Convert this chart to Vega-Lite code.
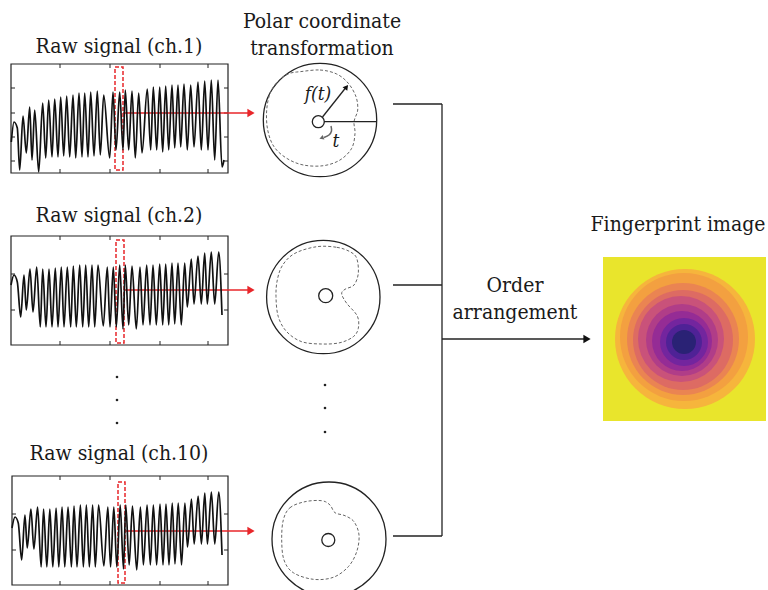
{
"$schema": "https://vega.github.io/schema/vega-lite/v6.json",
"width": 768, "height": 590, "padding": 0, "autosize": {"type": "none"},
"background": "white",
"config": {"view": {"stroke": null}},
"datasets": {
"sig": [
{"ch":1,"t":0.3,"a":31},{"ch":1,"t":3,"a":51},{"ch":1,"t":6.3,"a":45},{"ch":1,"t":8.7,"a":3},{"ch":1,"t":12,"a":57},{"ch":1,"t":15.3,"a":20},{"ch":1,"t":18.7,"a":66},{"ch":1,"t":21,"a":13},{"ch":1,"t":23.7,"a":63},{"ch":1,"t":27.7,"a":1},{"ch":1,"t":31.7,"a":70},{"ch":1,"t":34.7,"a":15},{"ch":1,"t":37.7,"a":73},{"ch":1,"t":41,"a":16},{"ch":1,"t":43.7,"a":74},{"ch":1,"t":47,"a":16},{"ch":1,"t":49.7,"a":76},{"ch":1,"t":52.7,"a":17},{"ch":1,"t":55.7,"a":77},{"ch":1,"t":58.7,"a":16},{"ch":1,"t":62,"a":78},{"ch":1,"t":64.7,"a":15},{"ch":1,"t":68,"a":80},{"ch":1,"t":71,"a":16},{"ch":1,"t":73.7,"a":80},{"ch":1,"t":77,"a":16},{"ch":1,"t":79.7,"a":81},{"ch":1,"t":83,"a":17},{"ch":1,"t":86.3,"a":82},{"ch":1,"t":89.3,"a":18},{"ch":1,"t":92.7,"a":78},{"ch":1,"t":98.7,"a":15},{"ch":1,"t":102,"a":81},{"ch":1,"t":105,"a":23},{"ch":1,"t":108.7,"a":81},{"ch":1,"t":112,"a":23},{"ch":1,"t":114.3,"a":83},{"ch":1,"t":117.7,"a":23},{"ch":1,"t":121,"a":82},{"ch":1,"t":124.3,"a":15},{"ch":1,"t":127.7,"a":80},{"ch":1,"t":131,"a":20},{"ch":1,"t":136.3,"a":84},{"ch":1,"t":139.7,"a":23},{"ch":1,"t":142.3,"a":86},{"ch":1,"t":145.7,"a":23},{"ch":1,"t":148.7,"a":86},{"ch":1,"t":151.7,"a":21},{"ch":1,"t":154.7,"a":87},{"ch":1,"t":157.7,"a":23},{"ch":1,"t":161,"a":88},{"ch":1,"t":163.7,"a":25},{"ch":1,"t":167,"a":88},{"ch":1,"t":169.7,"a":26},{"ch":1,"t":173,"a":89},{"ch":1,"t":176.3,"a":23},{"ch":1,"t":179.7,"a":88},{"ch":1,"t":183,"a":26},{"ch":1,"t":187,"a":91},{"ch":1,"t":190.3,"a":23},{"ch":1,"t":193.7,"a":92},{"ch":1,"t":197,"a":23},{"ch":1,"t":200.3,"a":93},{"ch":1,"t":203.7,"a":13},{"ch":1,"t":207,"a":93},{"ch":1,"t":211,"a":6},{"ch":1,"t":213,"a":13},
{"ch":2,"t":0,"a":60},{"ch":2,"t":3,"a":70},{"ch":2,"t":6.3,"a":63},{"ch":2,"t":9.7,"a":28},{"ch":2,"t":13,"a":70},{"ch":2,"t":15.3,"a":35},{"ch":2,"t":19,"a":76},{"ch":2,"t":22,"a":33},{"ch":2,"t":25.7,"a":78},{"ch":2,"t":29.3,"a":18},{"ch":2,"t":31.7,"a":76},{"ch":2,"t":35,"a":18},{"ch":2,"t":38,"a":76},{"ch":2,"t":41,"a":18},{"ch":2,"t":44.3,"a":77},{"ch":2,"t":47,"a":18},{"ch":2,"t":50.3,"a":78},{"ch":2,"t":53,"a":18},{"ch":2,"t":56.3,"a":78},{"ch":2,"t":59.7,"a":18},{"ch":2,"t":62.3,"a":79},{"ch":2,"t":65.3,"a":18},{"ch":2,"t":68.7,"a":80},{"ch":2,"t":71.7,"a":18},{"ch":2,"t":74.7,"a":80},{"ch":2,"t":77.7,"a":18},{"ch":2,"t":81,"a":80},{"ch":2,"t":83.7,"a":18},{"ch":2,"t":87,"a":80},{"ch":2,"t":92.3,"a":19},{"ch":2,"t":96.3,"a":78},{"ch":2,"t":99,"a":18},{"ch":2,"t":102.3,"a":78},{"ch":2,"t":105.3,"a":18},{"ch":2,"t":108.7,"a":80},{"ch":2,"t":112,"a":16},{"ch":2,"t":114.3,"a":80},{"ch":2,"t":117.7,"a":20},{"ch":2,"t":121,"a":79},{"ch":2,"t":125.3,"a":16},{"ch":2,"t":129,"a":78},{"ch":2,"t":132,"a":20},{"ch":2,"t":135.7,"a":80},{"ch":2,"t":139,"a":20},{"ch":2,"t":142,"a":80},{"ch":2,"t":145.3,"a":20},{"ch":2,"t":148.7,"a":81},{"ch":2,"t":151.7,"a":20},{"ch":2,"t":154.7,"a":81},{"ch":2,"t":157.7,"a":20},{"ch":2,"t":161,"a":82},{"ch":2,"t":163.7,"a":21},{"ch":2,"t":167,"a":82},{"ch":2,"t":170.3,"a":20},{"ch":2,"t":173.7,"a":82},{"ch":2,"t":176.3,"a":38},{"ch":2,"t":180.3,"a":86},{"ch":2,"t":183,"a":41},{"ch":2,"t":187,"a":89},{"ch":2,"t":190.3,"a":41},{"ch":2,"t":193.7,"a":92},{"ch":2,"t":196.3,"a":41},{"ch":2,"t":200.3,"a":93},{"ch":2,"t":203.7,"a":41},{"ch":2,"t":207.7,"a":93},{"ch":2,"t":211,"a":30},
{"ch":3,"t":0,"a":57},{"ch":3,"t":3,"a":68},{"ch":3,"t":6.3,"a":62},{"ch":3,"t":9.7,"a":25},{"ch":3,"t":13,"a":70},{"ch":3,"t":15.3,"a":37},{"ch":3,"t":19,"a":76},{"ch":3,"t":22,"a":36},{"ch":3,"t":25.7,"a":78},{"ch":3,"t":29.3,"a":18},{"ch":3,"t":31.7,"a":76},{"ch":3,"t":35,"a":18},{"ch":3,"t":38,"a":76},{"ch":3,"t":41,"a":18},{"ch":3,"t":44.3,"a":77},{"ch":3,"t":47,"a":18},{"ch":3,"t":50.3,"a":78},{"ch":3,"t":53,"a":18},{"ch":3,"t":56.3,"a":78},{"ch":3,"t":59.7,"a":18},{"ch":3,"t":62.3,"a":79},{"ch":3,"t":65.3,"a":18},{"ch":3,"t":68.7,"a":80},{"ch":3,"t":71.7,"a":18},{"ch":3,"t":74.7,"a":80},{"ch":3,"t":77.7,"a":18},{"ch":3,"t":81,"a":80},{"ch":3,"t":83.7,"a":18},{"ch":3,"t":87,"a":80},{"ch":3,"t":92.3,"a":19},{"ch":3,"t":96.3,"a":78},{"ch":3,"t":99,"a":18},{"ch":3,"t":102.3,"a":78},{"ch":3,"t":105.3,"a":18},{"ch":3,"t":108.7,"a":80},{"ch":3,"t":112,"a":16},{"ch":3,"t":114.3,"a":80},{"ch":3,"t":117.7,"a":20},{"ch":3,"t":121,"a":79},{"ch":3,"t":125.3,"a":15},{"ch":3,"t":129,"a":78},{"ch":3,"t":132,"a":20},{"ch":3,"t":135.7,"a":80},{"ch":3,"t":139,"a":20},{"ch":3,"t":142,"a":80},{"ch":3,"t":145.3,"a":20},{"ch":3,"t":148.7,"a":81},{"ch":3,"t":151.7,"a":20},{"ch":3,"t":154.7,"a":81},{"ch":3,"t":157.7,"a":20},{"ch":3,"t":161,"a":82},{"ch":3,"t":163.7,"a":21},{"ch":3,"t":167,"a":82},{"ch":3,"t":170.3,"a":20},{"ch":3,"t":173.7,"a":82},{"ch":3,"t":176.3,"a":38},{"ch":3,"t":180.3,"a":86},{"ch":3,"t":183,"a":41},{"ch":3,"t":187,"a":89},{"ch":3,"t":190.3,"a":41},{"ch":3,"t":193.7,"a":92},{"ch":3,"t":196.3,"a":41},{"ch":3,"t":200.3,"a":93},{"ch":3,"t":203.7,"a":41},{"ch":3,"t":207.7,"a":93},{"ch":3,"t":211,"a":30}
],
"frames": [{"x":11,"y":64,"x2":228,"y2":173},{"x":11,"y":236,"x2":228,"y2":345},{"x":12,"y":476,"x2":228,"y2":585}],
"ticks": [
{"x":60,"y":64,"x2":60,"y2":68},{"x":110,"y":64,"x2":110,"y2":68},{"x":160,"y":64,"x2":160,"y2":68},{"x":208,"y":64,"x2":208,"y2":68},
{"x":60,"y":169,"x2":60,"y2":173},{"x":110,"y":169,"x2":110,"y2":173},{"x":160,"y":169,"x2":160,"y2":173},{"x":208,"y":169,"x2":208,"y2":173},
{"x":11,"y":88,"x2":15,"y2":88},{"x":11,"y":113,"x2":15,"y2":113},{"x":11,"y":137,"x2":15,"y2":137},{"x":11,"y":161,"x2":15,"y2":161},
{"x":224,"y":88,"x2":228,"y2":88},{"x":224,"y":113,"x2":228,"y2":113},{"x":224,"y":137,"x2":228,"y2":137},{"x":224,"y":161,"x2":228,"y2":161},
{"x":60,"y":236,"x2":60,"y2":240},{"x":110,"y":236,"x2":110,"y2":240},{"x":160,"y":236,"x2":160,"y2":240},{"x":208,"y":236,"x2":208,"y2":240},
{"x":60,"y":341,"x2":60,"y2":345},{"x":110,"y":341,"x2":110,"y2":345},{"x":160,"y":341,"x2":160,"y2":345},{"x":208,"y":341,"x2":208,"y2":345},
{"x":11,"y":274,"x2":15,"y2":274},{"x":11,"y":310,"x2":15,"y2":310},{"x":224,"y":274,"x2":228,"y2":274},{"x":224,"y":310,"x2":228,"y2":310},
{"x":60,"y":476,"x2":60,"y2":480},{"x":110,"y":476,"x2":110,"y2":480},{"x":160,"y":476,"x2":160,"y2":480},{"x":208,"y":476,"x2":208,"y2":480},
{"x":60,"y":581,"x2":60,"y2":585},{"x":110,"y":581,"x2":110,"y2":585},{"x":160,"y":581,"x2":160,"y2":585},{"x":208,"y":581,"x2":208,"y2":585},
{"x":12,"y":514,"x2":16,"y2":514},{"x":12,"y":550,"x2":16,"y2":550},{"x":224,"y":514,"x2":228,"y2":514},{"x":224,"y":550,"x2":228,"y2":550}
],
"redbox": [{"x":115,"y":67,"x2":123,"y2":170},{"x":116,"y":240,"x2":124,"y2":343},{"x":118,"y":482,"x2":125,"y2":583}],
"redline": [{"x":123,"y":113,"x2":250,"y2":113},{"x":124,"y":290,"x2":250,"y2":290},{"x":125,"y":531,"x2":250,"y2":531}],
"redhead": [{"x":251,"y":113},{"x":251,"y":290},{"x":251,"y":531}],
"conn": [{"x":393,"y":104,"x2":442,"y2":104},{"x":393,"y":285,"x2":442,"y2":285},{"x":393,"y":536,"x2":442,"y2":536},{"x":442,"y":104,"x2":442,"y2":536},{"x":442,"y":339,"x2":585,"y2":339},{"x":324,"y":121.7,"x2":376.7,"y2":121.7},{"x":322.5,"y":117,"x2":345.5,"y2":88}],
"blackhead": [{"x":587,"y":339}],
"fhead": [{"x":346.5,"y":87}],
"tarc": [{"o":1,"x":331,"y":126},{"o":2,"x":331.5,"y":131},{"o":3,"x":329,"y":135},{"o":4,"x":324,"y":137.5}],
"thead": [{"x":321.5,"y":138}],
"circles": [{"x":320,"y":120,"r":56.7},{"x":323.3,"y":297,"r":56.7},{"x":329,"y":539,"r":57},{"x":318.3,"y":121.7,"r":6},{"x":325.7,"y":295.7,"r":7},{"x":328.3,"y":540,"r":6.5}],
"dash": [
{"c":1,"o":1,"x":300,"y":71.7},{"c":1,"o":2,"x":320,"y":70},{"c":1,"o":3,"x":336.7,"y":74},{"c":1,"o":4,"x":348.3,"y":83.3},{"c":1,"o":5,"x":356,"y":96.7},{"c":1,"o":6,"x":357.7,"y":110},{"c":1,"o":7,"x":354,"y":121.7},{"c":1,"o":8,"x":355,"y":133.3},{"c":1,"o":9,"x":351.7,"y":148.3},{"c":1,"o":10,"x":340,"y":160},{"c":1,"o":11,"x":323.3,"y":165.7},{"c":1,"o":12,"x":303.3,"y":165},{"c":1,"o":13,"x":286.7,"y":158.3},{"c":1,"o":14,"x":274,"y":146.7},{"c":1,"o":15,"x":267.7,"y":130},{"c":1,"o":16,"x":266.7,"y":110},{"c":1,"o":17,"x":270.7,"y":91.7},{"c":1,"o":18,"x":280,"y":79.3},{"c":1,"o":19,"x":290,"y":73.3},
{"c":2,"o":1,"x":316.7,"y":246.7},{"c":2,"o":2,"x":336.7,"y":247.3},{"c":2,"o":3,"x":350,"y":251.7},{"c":2,"o":4,"x":356.7,"y":258.3},{"c":2,"o":5,"x":358.3,"y":273.3},{"c":2,"o":6,"x":354,"y":285},{"c":2,"o":7,"x":345,"y":289.3},{"c":2,"o":8,"x":341.7,"y":294},{"c":2,"o":9,"x":346.7,"y":303.3},{"c":2,"o":10,"x":357.3,"y":316},{"c":2,"o":11,"x":358.3,"y":328.3},{"c":2,"o":12,"x":353.3,"y":336.7},{"c":2,"o":13,"x":340,"y":342.7},{"c":2,"o":14,"x":321.7,"y":344},{"c":2,"o":15,"x":301.7,"y":341.7},{"c":2,"o":16,"x":286.7,"y":331.7},{"c":2,"o":17,"x":278.3,"y":316.7},{"c":2,"o":18,"x":276,"y":296.7},{"c":2,"o":19,"x":277.3,"y":280},{"c":2,"o":20,"x":282.7,"y":265},{"c":2,"o":21,"x":295,"y":253.3},
{"c":3,"o":1,"x":283.3,"y":520},{"c":3,"o":2,"x":290,"y":507.7},{"c":3,"o":3,"x":305,"y":501.7},{"c":3,"o":4,"x":321.7,"y":500.7},{"c":3,"o":5,"x":330,"y":505},{"c":3,"o":6,"x":335,"y":512.7},{"c":3,"o":7,"x":345,"y":515.7},{"c":3,"o":8,"x":354,"y":521.7},{"c":3,"o":9,"x":359,"y":535},{"c":3,"o":10,"x":356.7,"y":551.7},{"c":3,"o":11,"x":348.3,"y":566.7},{"c":3,"o":12,"x":333.3,"y":577.3},{"c":3,"o":13,"x":313.3,"y":579.3},{"c":3,"o":14,"x":293.3,"y":572.7},{"c":3,"o":15,"x":284,"y":560},{"c":3,"o":16,"x":281.7,"y":540}
],
"dots": [{"x":117,"y":377},{"x":117,"y":400},{"x":117,"y":423},{"x":325,"y":385},{"x":325,"y":408},{"x":325,"y":432}],
"labels": [{"x":119,"y":53,"text":"Raw signal (ch.1)"},{"x":119,"y":222,"text":"Raw signal (ch.2)"},{"x":119,"y":460,"text":"Raw signal (ch.10)"},{"x":322,"y":28,"text":"Polar coordinate"},{"x":322,"y":55,"text":"transformation"},{"x":515,"y":292,"text":"Order"},{"x":515,"y":319,"text":"arrangement"},{"x":678,"y":231,"text":"Fingerprint image"}],
"ital": [{"x":318,"y":100,"text":"f(t)"},{"x":336,"y":147,"text":"t"}],
"fpbg": [{"x":603,"y":257,"x2":766,"y2":421}],
"rings": [{"x":685,"y":339,"r":70,"lv":1},{"x":684,"y":337,"r":64,"lv":2},{"x":683,"y":339,"r":56,"lv":3},{"x":683,"y":340,"r":50,"lv":4},{"x":681,"y":339,"r":43,"lv":5},{"x":682,"y":340,"r":36,"lv":6},{"x":682,"y":341,"r":30,"lv":7},{"x":684,"y":342,"r":24,"lv":8},{"x":684,"y":342,"r":18,"lv":9},{"x":684,"y":342,"r":12,"lv":10}]
},
"layer": [
{
"encoding": {
"x": {"field": "x", "type": "quantitative", "scale": {"domain": [0, 768], "range": [0, 768], "nice": false, "zero": false}, "axis": null},
"y": {"field": "y", "type": "quantitative", "scale": {"domain": [0, 590], "range": [0, 590], "nice": false, "zero": false}, "axis": null}
},
"layer": [
{"data": {"name": "fpbg"}, "mark": {"type": "rect", "fill": "#e9e52c"}, "encoding": {"x2": {"field": "x2"}, "y2": {"field": "y2"}}},
{"data": {"name": "rings"}, "mark": {"type": "point", "shape": "circle", "filled": true, "opacity": 1, "strokeWidth": 0},
 "encoding": {
  "size": {"field": "r", "type": "quantitative", "scale": {"type": "pow", "exponent": 2, "domain": [0, 100], "range": [0, 40000]}, "legend": null},
  "color": {"field": "lv", "type": "ordinal", "scale": {"domain": [1,2,3,4,5,6,7,8,9,10], "range": ["#f6b53c","#f3a040","#ea8452","#dd6b63","#c9527a","#b03d88","#952c95","#73259e","#4f2296","#2a2275"]}, "legend": null},
  "order": {"field": "r", "type": "quantitative", "sort": "descending"}}},
{"data": {"name": "frames"}, "mark": {"type": "rect", "fill": null, "stroke": "#222", "strokeWidth": 1.2}, "encoding": {"x2": {"field": "x2"}, "y2": {"field": "y2"}}},
{"data": {"name": "ticks"}, "mark": {"type": "rule", "color": "#222", "strokeWidth": 1}, "encoding": {"x2": {"field": "x2"}, "y2": {"field": "y2"}}},
{"data": {"name": "circles"}, "mark": {"type": "point", "shape": "circle", "filled": false, "opacity": 1, "color": "#222", "strokeWidth": 1.3},
 "encoding": {"size": {"field": "r", "type": "quantitative", "scale": {"type": "pow", "exponent": 2, "domain": [0, 100], "range": [0, 40000]}, "legend": null}}},
{"data": {"name": "dash"}, "mark": {"type": "line", "color": "#666", "strokeWidth": 1, "strokeDash": [3, 2], "interpolate": "cardinal-closed"},
 "encoding": {"detail": {"field": "c"}, "order": {"field": "o", "type": "quantitative"}}},
{"data": {"name": "conn"}, "mark": {"type": "rule", "color": "#222", "strokeWidth": 1.3}, "encoding": {"x2": {"field": "x2"}, "y2": {"field": "y2"}}},
{"data": {"name": "blackhead"}, "mark": {"type": "point", "shape": "triangle-right", "filled": true, "opacity": 1, "color": "#111", "size": 70}},
{"data": {"name": "fhead"}, "mark": {"type": "point", "shape": "triangle-up", "filled": true, "opacity": 1, "color": "#111", "size": 35, "angle": 38}},
{"data": {"name": "tarc"}, "mark": {"type": "line", "color": "#666", "strokeWidth": 1.5, "interpolate": "cardinal"}, "encoding": {"order": {"field": "o", "type": "quantitative"}}},
{"data": {"name": "thead"}, "mark": {"type": "point", "shape": "triangle-left", "filled": true, "opacity": 1, "color": "#666", "size": 25, "angle": -20}},
{"data": {"name": "redbox"}, "mark": {"type": "rect", "fill": null, "stroke": "#e8262a", "strokeWidth": 1.5, "strokeDash": [4, 2]}, "encoding": {"x2": {"field": "x2"}, "y2": {"field": "y2"}}},
{"data": {"name": "redline"}, "mark": {"type": "rule", "color": "#e8262a", "strokeWidth": 1.3}, "encoding": {"x2": {"field": "x2"}, "y2": {"field": "y2"}}},
{"data": {"name": "redhead"}, "mark": {"type": "point", "shape": "triangle-right", "filled": true, "opacity": 1, "color": "#e8262a", "size": 70}},
{"data": {"name": "dots"}, "mark": {"type": "point", "shape": "circle", "filled": true, "opacity": 1, "color": "#222", "size": 7}},
{"data": {"name": "labels"}, "mark": {"type": "text", "font": "DejaVu Serif Condensed, DejaVu Serif", "fontSize": 21, "color": "#1a1a1a", "align": "center", "baseline": "alphabetic"}, "encoding": {"text": {"field": "text"}}},
{"data": {"name": "ital"}, "mark": {"type": "text", "font": "DejaVu Serif Condensed, DejaVu Serif", "fontSize": 19, "fontStyle": "italic", "color": "#1a1a1a", "align": "center", "baseline": "alphabetic"}, "encoding": {"text": {"field": "text"}}}
]
},
{"data": {"name": "sig"}, "transform": [{"filter": "datum.ch == 1"}],
 "mark": {"type": "line", "color": "#111", "strokeWidth": 1.7, "interpolate": "monotone"},
 "encoding": {
  "x": {"field": "t", "type": "quantitative", "scale": {"domain": [0, 217], "range": [11, 228], "nice": false, "zero": false}, "axis": null},
  "y": {"field": "a", "type": "quantitative", "scale": {"domain": [0, 109], "range": [173, 64], "nice": false, "zero": false}, "axis": null}}},
{"data": {"name": "sig"}, "transform": [{"filter": "datum.ch == 2"}],
 "mark": {"type": "line", "color": "#111", "strokeWidth": 1.7, "interpolate": "monotone"},
 "encoding": {
  "x": {"field": "t", "type": "quantitative", "scale": {"domain": [0, 217], "range": [11, 228], "nice": false, "zero": false}, "axis": null},
  "y": {"field": "a", "type": "quantitative", "scale": {"domain": [0, 109], "range": [345, 236], "nice": false, "zero": false}, "axis": null}}},
{"data": {"name": "sig"}, "transform": [{"filter": "datum.ch == 3"}],
 "mark": {"type": "line", "color": "#111", "strokeWidth": 1.7, "interpolate": "monotone"},
 "encoding": {
  "x": {"field": "t", "type": "quantitative", "scale": {"domain": [0, 217], "range": [12, 228], "nice": false, "zero": false}, "axis": null},
  "y": {"field": "a", "type": "quantitative", "scale": {"domain": [0, 109], "range": [585, 476], "nice": false, "zero": false}, "axis": null}}}
],
"resolve": {"scale": {"x": "independent", "y": "independent"}}
}
